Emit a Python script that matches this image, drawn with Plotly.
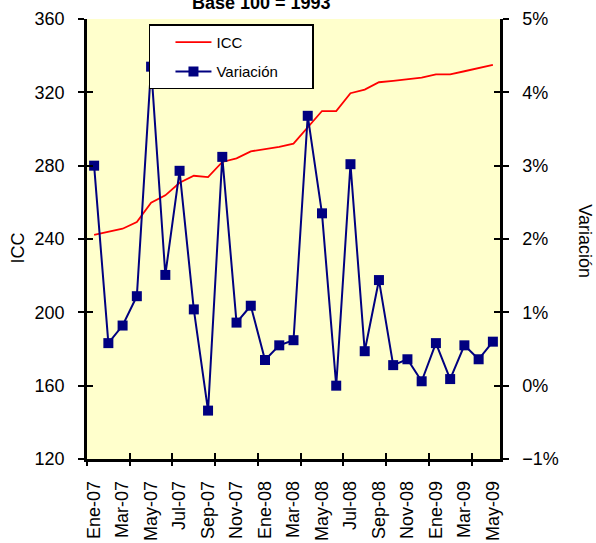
import plotly.graph_objects as go

# ---- data ----
months = ["Ene-07", "Feb-07", "Mar-07", "Abr-07", "May-07", "Jun-07", "Jul-07", "Ago-07",
          "Sep-07", "Oct-07", "Nov-07", "Dic-07", "Ene-08", "Feb-08", "Mar-08", "Abr-08",
          "May-08", "Jun-08", "Jul-08", "Ago-08", "Sep-08", "Oct-08", "Nov-08", "Dic-08",
          "Ene-09", "Feb-09", "Mar-09", "Abr-09", "May-09"]
icc = [242.2, 244.0, 245.6, 249.3, 259.8, 263.8, 270.7, 274.5, 273.8, 282.0,
       284.0, 287.8, 288.9, 290.3, 292.0, 301.0, 309.8, 309.8, 319.5, 321.5,
       325.5, 326.3, 327.1, 328.0, 329.8, 329.8, 331.5, 333.1, 335.0]
variacion_pct = [3.00, 0.58, 0.82, 1.22, 4.35, 1.51, 2.93, 1.04, -0.34, 3.12,
                 0.86, 1.09, 0.35, 0.55, 0.62, 3.68, 2.35, 0.00, 3.02, 0.47,
                 1.44, 0.28, 0.36, 0.06, 0.58, 0.09, 0.55, 0.36, 0.60]
left_ticks = [120, 160, 200, 240, 280, 320, 360]
right_ticks = [-0.01, 0.0, 0.01, 0.02, 0.03, 0.04, 0.05]

idx = list(range(len(months)))
variacion = [v / 100 for v in variacion_pct]
label_idx = idx[::2]
label_txt = months[::2]
boundary_ticks = [i - 0.5 for i in range(0, len(months) + 1, 3)]

FONT = "Arial, Liberation Sans, sans-serif"
NAVY = "#000080"
NB = "\u00a0"
xr = [-0.5, len(months) - 0.5]

fig = go.Figure()
fig.add_trace(go.Scatter(x=idx, y=icc, name="ICC", mode="lines",
                         line=dict(color="#FF0000", width=1.8),
                         legendgroup="a", xaxis="x", yaxis="y"))
fig.add_trace(go.Scatter(x=idx, y=variacion, name="Variación" + NB * 7,
                         mode="lines+markers",
                         line=dict(color=NAVY, width=2),
                         marker=dict(symbol="square", size=10, color=NAVY),
                         legendgroup="b", xaxis="x", yaxis="y2"))
# invisible helpers so the tick-only overlay axes get drawn
for xa, ya in [("x2", "y"), ("x3", "y"), ("x", "y3")]:
    fig.add_trace(go.Scatter(x=idx, y=icc, mode="lines", line=dict(width=0),
                             opacity=0, hoverinfo="skip", showlegend=False,
                             xaxis=xa, yaxis=ya))

common_tick = dict(ticklen=6, tickwidth=1.5, tickcolor="black")

fig.update_layout(
    width=596, height=543,
    margin=dict(l=87, r=96, t=19, b=84),
    paper_bgcolor="white",
    plot_bgcolor="#FFFFCC",
    font=dict(family=FONT, size=18, color="black"),
    showlegend=True,
    xaxis=dict(range=xr, tickmode="array", tickvals=label_idx, ticktext=label_txt,
               tickangle=-90, ticks="", showgrid=False, zeroline=False,
               showline=True, linecolor="black", linewidth=2.5,
               ticklabelstandoff=12, tickfont=dict(size=18), automargin=False),
    xaxis2=dict(range=xr, overlaying="x", anchor="y", side="bottom",
                tickmode="array", tickvals=boundary_ticks, ticks="outside",
                showticklabels=False, showgrid=False, zeroline=False,
                showline=False, automargin=False, **common_tick),
    xaxis3=dict(range=xr, overlaying="x", anchor="y", side="bottom",
                tickmode="array", tickvals=boundary_ticks, ticks="inside",
                showticklabels=False, showgrid=False, zeroline=False,
                showline=False, automargin=False, **common_tick),
    yaxis=dict(range=[120, 360], tickmode="array", tickvals=left_ticks,
               ticks="outside", showgrid=False, zeroline=False,
               showline=True, linecolor="black", linewidth=2.5,
               ticklabelstandoff=10, automargin=False, **common_tick),
    yaxis2=dict(range=[-0.01, 0.05], overlaying="y", side="right", anchor="x",
                tickmode="array", tickvals=right_ticks, tickformat=".0%",
                ticks="outside", showgrid=False, zeroline=False,
                showline=True, linecolor="black", linewidth=2.5,
                ticklabelstandoff=10, automargin=False, **common_tick),
    yaxis3=dict(range=[120, 360], overlaying="y", anchor="x", side="left",
                tickmode="array", tickvals=left_ticks, ticks="inside",
                mirror="ticks", showticklabels=False, showgrid=False,
                zeroline=False, showline=False, automargin=False, **common_tick),
    legend=dict(x=0.150, y=0.988, xanchor="left", yanchor="top",
                bgcolor="white", bordercolor="black", borderwidth=1.5,
                font=dict(size=15, family=FONT), traceorder="grouped",
                tracegroupgap=7, itemwidth=36,
                title=dict(text=NB * 2, side="left")),
    annotations=[
        dict(text="<b>Base 100 = 1993</b>", xref="paper", yref="paper",
             x=0.423, y=1.010, xanchor="center", yanchor="bottom",
             showarrow=False, font=dict(size=18, family=FONT)),
        dict(text="ICC", xref="paper", yref="paper", x=-0.168, y=0.48,
             xanchor="center", yanchor="middle", textangle=-90,
             showarrow=False, font=dict(size=18, family=FONT)),
        dict(text="Variación", xref="paper", yref="paper", x=1.2055, y=0.495,
             xanchor="center", yanchor="middle", textangle=90,
             showarrow=False, font=dict(size=18, family=FONT)),
    ],
)

fig.write_html("out.html",
               config={"displayModeBar": False},
               post_script="document.body.style.margin='0';"
                           "document.body.style.overflow='hidden';")
